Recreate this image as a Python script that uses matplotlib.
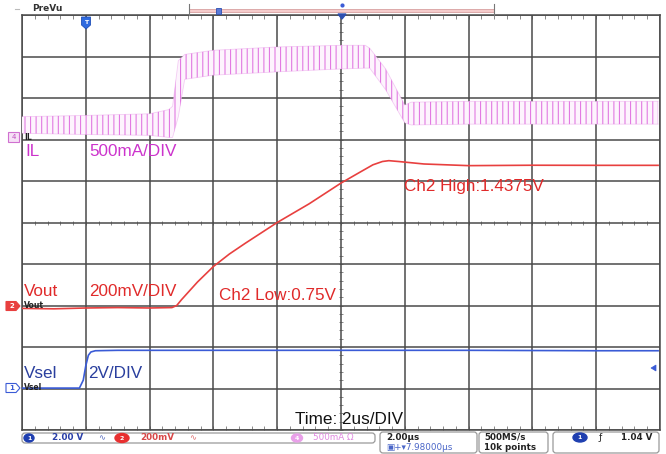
import matplotlib
matplotlib.use("Agg")
import matplotlib.pyplot as plt
from matplotlib.patches import FancyBboxPatch, Polygon, Ellipse, Rectangle
import numpy as np

plt.rcParams["hatch.linewidth"] = 0.8

# ---- acquisition settings -------------------------------------------------
us_per_div = 2.0          # Time: 2us/DIV
n_div_x = 10
n_div_y = 10

# ---- IL: inductor current ripple envelope (A), 500 mA/DIV ---------------------
il_time_us = [0, 2, 4, 4.6, 4.72, 4.9, 5.1, 6.0, 8.0, 10.0, 10.76, 10.9,
              11.4, 12.0, 12.2, 14, 16, 18, 19.94]
il_low_a = [0.045, 0.03, 0.02, -0.005, -0.005, 0.245, 0.695, 0.745, 0.785,
            0.82, 0.83, 0.83, 0.57, 0.17, 0.145, 0.155, 0.155, 0.155, 0.155]
il_high_a = [0.245, 0.26, 0.28, 0.33, 0.37, 0.92, 0.995, 1.045, 1.085, 1.105,
             1.105, 1.07, 0.82, 0.385, 0.42, 0.43, 0.43, 0.43, 0.43]
il_scale = 0.5            # A per division
il_ref_div = 7.06         # screen level of the channel 4 marker

# ---- Vout: output voltage (V), 200 mV/DIV -------------------------------------
vout_time_us = [0, 1, 2, 3, 4, 4.7, 4.85, 5.0, 5.5, 6.0, 6.5, 7.0, 8.0, 9.0,
                10.0, 10.6, 11.0, 11.3, 11.5, 11.8, 12.6, 14, 16, 18, 19.94]
vout_volts = [0.748, 0.746, 0.750, 0.752, 0.750, 0.752, 0.762, 0.79, 0.875,
              0.95, 1.01, 1.062, 1.162, 1.252, 1.352, 1.405, 1.44, 1.456,
              1.46, 1.456, 1.444, 1.436, 1.438, 1.4375, 1.4375]
vout_low = 0.75
vout_high = 1.4375
vout_scale = 0.2          # V per division
vout_low_div = 2.94       # screen level of the 0.75 V plateau

# ---- Vsel: select input (V), 2V/DIV -------------------------------------------
vsel_time_us = [0, 1, 1.8, 1.92, 2.0, 2.08, 2.16, 2.3, 3, 6, 10, 14, 18, 19.94]
vsel_volts = [0, 0, 0, 0.38, 1.08, 1.58, 1.74, 1.8, 1.82, 1.82, 1.82, 1.82,
              1.80, 1.80]
vsel_scale = 2.0
vsel_ref_div = 1.01

# ---- colours -----------------------------------------------------------------
c_il_trace = "#e27ae2"
c_il_text = "#cc33cc"
c_vout = "#e8403f"
c_vout_text = "#e02a2a"
c_vsel = "#3a5bd6"
c_vsel_text = "#2a3f9e"
c_grid = "#4a4a4a"

W, H = 666, 454
fig = plt.figure(figsize=(W / 100, H / 100), dpi=100)
fig.patch.set_facecolor("white")

# plot area in pixels
x0, x1, y0, y1 = 22, 660, 15, 430
ax = fig.add_axes([x0 / W, 1 - y1 / H, (x1 - x0) / W, (y1 - y0) / H])
ax.set_xlim(0, us_per_div * n_div_x)
ax.set_ylim(0, n_div_y)
ax.set_xticks(np.arange(0, us_per_div * n_div_x + 0.01, us_per_div))
ax.set_yticks(np.arange(0, n_div_y + 1))
ax.grid(True, color=c_grid, lw=1.1)
ax.tick_params(which="both", length=0, labelbottom=False, labelleft=False)
for s in ax.spines.values():
    s.set_color(c_grid)
    s.set_linewidth(1.1)

# minor graduations along the centre crosshair and frame
sub_x = np.arange(0, us_per_div * n_div_x, us_per_div / 5)
sub_y = np.arange(0, n_div_y, 0.2)
for yy in (n_div_y / 2, 0.05, n_div_y - 0.05):
    ax.plot(sub_x, np.full_like(sub_x, yy), ls="none", marker="|", ms=3,
            mew=0.7, color="#888888", zorder=1)
for xx in (us_per_div * n_div_x / 2,):
    ax.plot(np.full_like(sub_y, xx), sub_y, ls="none", marker="_", ms=3,
            mew=0.7, color="#888888", zorder=1)

# IL ripple band
il_lo_div = [il_ref_div + v / il_scale for v in il_low_a]
il_hi_div = [il_ref_div + v / il_scale for v in il_high_a]
ax.fill_between(il_time_us, il_lo_div, il_hi_div, facecolor="#fdf4fd",
                edgecolor=c_il_trace, hatch="|||", linewidth=0, zorder=3)
ax.plot(il_time_us, il_lo_div, color=c_il_trace, lw=0.6, alpha=0.35, zorder=3)
ax.plot(il_time_us, il_hi_div, color=c_il_trace, lw=0.6, alpha=0.35, zorder=3)

# Vout
vout_div = [vout_low_div + (v - vout_low) / vout_scale for v in vout_volts]
ax.plot(vout_time_us, vout_div, color=c_vout, lw=1.2, zorder=4)

# Vsel
vsel_div = [vsel_ref_div + v / vsel_scale for v in vsel_volts]
ax.plot(vsel_time_us, vsel_div, color=c_vsel, lw=1.2, zorder=4)

# ---- overlay in pixel coordinates ---------------------------------------------
ov = fig.add_axes([0, 0, 1, 1], zorder=5)
ov.set_xlim(0, W)
ov.set_ylim(H, 0)
ov.axis("off")
ov.patch.set_alpha(0)

lab = dict(family="Liberation Sans", fontsize=12.3, va="center", ha="left")
ov.text(25, 152, "IL", color=c_il_text, **lab)
ov.text(89, 152, "500mA/DIV", color=c_il_text, **lab)
ov.text(24, 292, "Vout", color=c_vout_text, **lab)
ov.text(89, 292, "200mV/DIV", color=c_vout_text, **lab)
ov.text(219, 295, f"Ch2 Low:{vout_low:g}V", color=c_vout_text, **lab)
ov.text(404, 186, f"Ch2 High:{vout_high:g}V", color=c_vout_text, **lab)
ov.text(24, 373, "Vsel", color=c_vsel_text, **lab)
ov.text(88, 373, "2V/DIV", color=c_vsel_text, **lab)
ov.text(295, 419, "Time: 2us/DIV", color="#111111", **lab)

# channel reference markers on the left edge
def arrow_marker(xc, yc, face, edge, label, label_color):
    pts = [(xc - 7, yc - 4.5), (xc + 3, yc - 4.5), (xc + 7, yc),
           (xc + 3, yc + 4.5), (xc - 7, yc + 4.5)]
    ov.add_patch(Polygon(pts, closed=True, facecolor=face, edgecolor=edge, lw=0.8))
    ov.text(xc - 1, yc, label, color=label_color, fontsize=5, ha="center",
            va="center", fontweight="bold")

ov.add_patch(Rectangle((8, 132), 11, 10, facecolor="#f6e0f6", edgecolor="#d070d0", lw=0.8))
ov.text(13.5, 137, "4", color="#c050c0", fontsize=5, ha="center", va="center")
ov.text(24, 137, "IL", color="#222222", fontsize=5.5, fontweight="bold", va="center")

arrow_marker(13, 306, c_vout, c_vout, "2", "white")
ov.text(24, 305, "Vout", color="#222222", fontsize=5.5, fontweight="bold", va="center")

arrow_marker(13, 388, "white", c_vsel, "1", c_vsel)
ov.text(24, 387, "Vsel", color="#222222", fontsize=5.5, fontweight="bold", va="center")

# trigger level marker on the right edge
ov.add_patch(Polygon([(651, 368), (656, 365), (656, 371)], closed=True,
                     facecolor=c_vsel, edgecolor=c_vsel, lw=0.5))

# top strip: PreVu, record bar, trigger markers
ov.text(32, 8.5, "PreVu", color="#333333", fontsize=6.5, fontweight="bold",
        va="center", ha="left")
ov.plot([15, 19], [9, 9], color="#bbbbbb", lw=0.8)
ov.add_patch(Rectangle((189, 8.5), 305, 3, facecolor="#f6cccc", edgecolor="#d8a0a0", lw=0.6))
ov.plot([189, 189], [4, 15], color="#777777", lw=0.8)
ov.plot([494, 494], [4, 15], color="#777777", lw=0.8)
ov.add_patch(Rectangle((215.5, 7.5), 5, 6, facecolor="#5a7ad8", edgecolor="#2d4fb0", lw=0.6))
ov.plot([342], [5], marker="o", ms=2, color="#3a5bd6")
ov.add_patch(Polygon([(338, 14), (346, 14), (342, 19)], closed=True,
                     facecolor="#2d4fb0", edgecolor="#2d4fb0"))
ov.add_patch(Polygon([(81.5, 17), (90.5, 17), (90.5, 25), (86, 29), (81.5, 25)],
                     closed=True, facecolor="#2f6be0", edgecolor="#1f4fb8", lw=0.6))
ov.text(86, 22, "T", color="white", fontsize=4.5, ha="center", va="center",
        fontweight="bold")

# bottom status bar
def rbox(xa, ya, xb, yb, ec="#9a9a9a"):
    ov.add_patch(FancyBboxPatch((xa, ya), xb - xa, yb - ya,
                                boxstyle="round,pad=0,rounding_size=3",
                                facecolor="white", edgecolor=ec, lw=0.9))

rbox(22, 433, 375, 443)
rbox(380, 432, 477, 453)
rbox(479, 432, 548, 453)
rbox(553, 432, 659, 453)

st = dict(fontsize=6.3, fontweight="bold", va="center", ha="left",
          family="DejaVu Sans")
ov.add_patch(Ellipse((29, 438), 10, 8, facecolor="#1f3fb0", edgecolor="#1f3fb0"))
ov.text(29, 438, "1", color="white", fontsize=4.5, ha="center", va="center", fontweight="bold")
ov.text(52, 438, "2.00 V", color="#2a3fa8", **st)
ov.text(98, 438, "\u223f", color="#5a6fc0", fontsize=6, ha="left", va="center")
ov.add_patch(Ellipse((122, 438), 14, 9, facecolor="#e83030", edgecolor="#e83030"))
ov.text(122, 438, "2", color="white", fontsize=4.5, ha="center", va="center", fontweight="bold")
ov.text(140, 438, "200mV", color="#d84848", **st)
ov.text(189, 438, "\u223f", color="#e07070", fontsize=6, ha="left", va="center")
ov.add_patch(Ellipse((297, 438), 11, 8, facecolor="#e9a0e9", edgecolor="#e9a0e9"))
ov.text(297, 438, "4", color="white", fontsize=4.5, ha="center", va="center", fontweight="bold")
ov.text(313, 438, "500mA \u03a9", color="#e08ae0", fontsize=6.3, va="center", ha="left")

ov.text(386, 437.5, "2.00\u00b5s", color="#222222", **st)
ov.text(386, 447.5, "\u25a3+\u25be7.98000\u00b5s", color="#4a66c8",
        fontsize=6.3, va="center", ha="left", family="DejaVu Sans")
ov.text(484, 437.5, "500MS/s", color="#222222", **st)
ov.text(484, 447.5, "10k points", color="#222222", **st)
ov.add_patch(Ellipse((580, 437.5), 14, 9, facecolor="#1f3fb0", edgecolor="#1f3fb0"))
ov.text(580, 437.5, "1", color="white", fontsize=4.5, ha="center", va="center", fontweight="bold")
ov.text(599, 437.5, "\u0192", color="#222222", fontsize=6.5, va="center", ha="left")
ov.text(621, 437.5, "1.04 V", color="#222222", **st)

fig.savefig("out.png", dpi=100, facecolor="white")
